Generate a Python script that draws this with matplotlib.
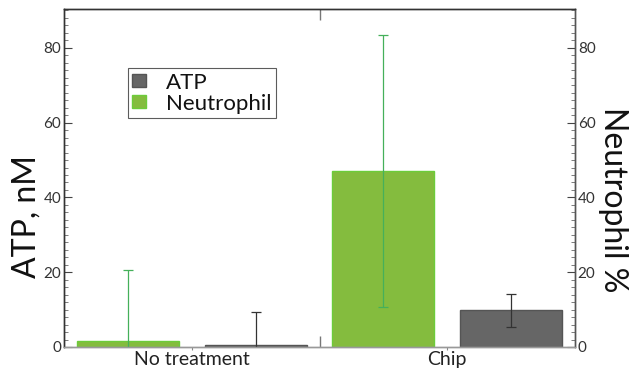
import matplotlib
matplotlib.use("Agg")
import matplotlib.pyplot as plt
import numpy as np
from matplotlib.ticker import MultipleLocator, FixedLocator

categories = ["No treatment", "Chip"]
neutrophil = [1.5, 47.1]
neutrophil_err = [19.2, 36.4]
atp = [0.5, 9.8]
atp_err = [8.8, 4.4]

plt.rcParams["font.family"] = ["Lato", "DejaVu Sans"]

fig = plt.figure(figsize=(6.39, 3.70), dpi=100)
ax = fig.add_axes([64 / 639, 1 - 347 / 370, 511 / 639, 338 / 370])

x = np.arange(len(categories))
w = 0.40
green = "#84bc3e"
gray = "#666666"

ax.bar(x - 0.25, neutrophil, w, color=green, edgecolor="#6ccc3a", linewidth=1.0,
       label="Neutrophil", zorder=2)
ax.bar(x + 0.25, atp, w, color=gray, edgecolor="#555555", linewidth=1.0,
       label="ATP", zorder=2)
ax.errorbar(x - 0.25, neutrophil, yerr=neutrophil_err, fmt="none",
            ecolor="#45b05a", elinewidth=0.9, capsize=3.5, capthick=0.9, zorder=3)
ax.errorbar(x + 0.25, atp, yerr=atp_err, fmt="none",
            ecolor="#333333", elinewidth=0.9, capsize=3.5, capthick=0.9, zorder=3)

ax.set_xlim(-0.5, 1.5)
ax.set_ylim(0, 90.4)

ax.set_xticks(x)
ax.set_xticklabels(categories, fontsize=14, color="#222222")
ax.xaxis.set_minor_locator(FixedLocator([0.5]))
ax.tick_params(axis="x", which="major", direction="out", length=2, width=0.8,
               color="#888888", pad=1, top=False)
ax.tick_params(axis="x", which="minor", direction="in", length=8, width=1.0,
               color="#777777", top=True, bottom=True)

ax.yaxis.set_major_locator(MultipleLocator(20))
ax.yaxis.set_minor_locator(MultipleLocator(2))
ax.tick_params(axis="y", which="major", direction="in", length=6, width=0.8,
               color="#444444", labelsize=11, labelcolor="#333333", pad=2)
ax.tick_params(axis="y", which="minor", direction="in", length=3, width=0.6,
               color="#666666")
ax.set_ylabel("ATP, nM", fontsize=23, color="#111111", va="center")
ax.yaxis.set_label_coords(-0.074, 0.385)

ax2 = ax.twinx()
ax2.set_ylim(ax.get_ylim())
ax2.yaxis.set_major_locator(MultipleLocator(20))
ax2.yaxis.set_minor_locator(MultipleLocator(2))
ax2.tick_params(axis="y", which="major", direction="in", length=6, width=0.8,
                color="#444444", labelsize=11, labelcolor="#333333", pad=2)
ax2.tick_params(axis="y", which="minor", direction="in", length=3, width=0.6,
                color="#666666")
ax2.set_ylabel("Neutrophil %", fontsize=23, color="#111111", rotation=270,
               va="center")
ax2.yaxis.set_label_coords(1.074, 0.435)

for a in (ax, ax2):
    a.spines["left"].set_color("#333333")
    a.spines["top"].set_color("#333333")
    a.spines["right"].set_color("#555555")
    a.spines["bottom"].set_color("#999999")
    for s in a.spines.values():
        s.set_linewidth(1.0)

handles, labels = ax.get_legend_handles_labels()
leg = ax.legend(handles[::-1], labels[::-1], loc="upper left",
                bbox_to_anchor=(0.125, 0.825), borderaxespad=0.0, fontsize=16,
                frameon=True, fancybox=False, edgecolor="#333333",
                handlelength=0.6, handleheight=0.5, handletextpad=0.9,
                borderpad=0.2, labelspacing=0.05)
leg.get_frame().set_linewidth(0.8)
for t in leg.get_texts():
    t.set_color("#111111")

fig.savefig("out.png", dpi=100)
